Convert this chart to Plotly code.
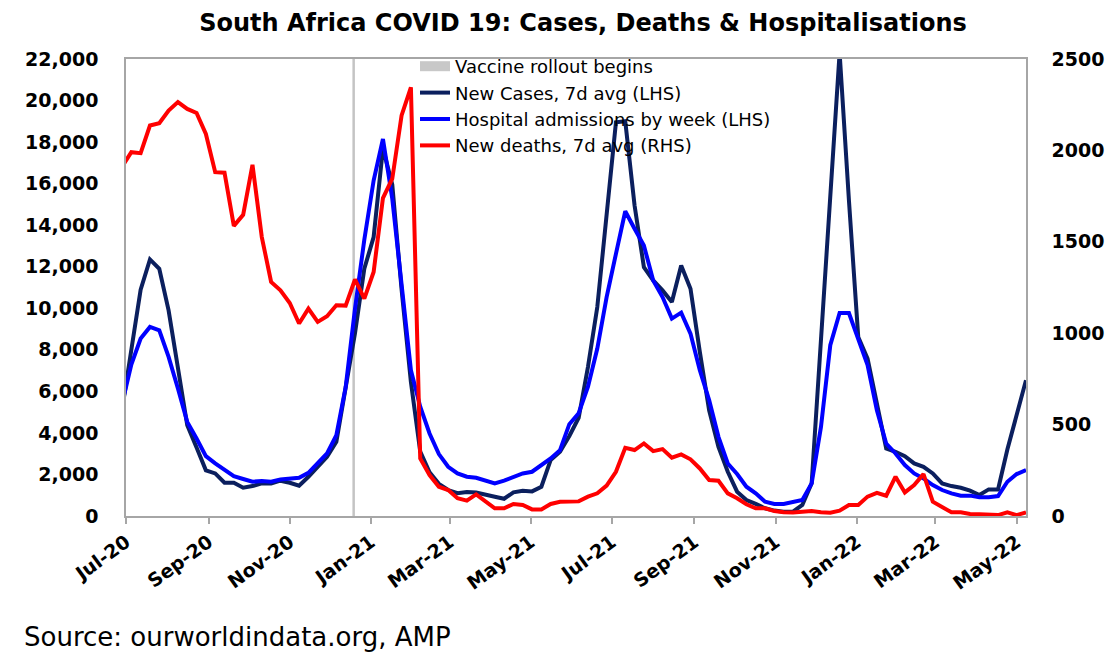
import plotly.graph_objects as go
import pandas as pd

# Weekly observation dates (Sundays)
dates = pd.date_range("2020-06-28", periods=98, freq="7D")

# New cases, 7-day average (LHS)
cases = [5100, 8000, 10900, 12350, 11900, 9900, 7100, 4370, 3300, 2200,
         2050, 1600, 1600, 1360, 1440, 1570, 1570, 1700, 1600, 1460,
         1890, 2370, 2850, 3570, 6100, 8800, 11900, 13430, 17700, 15950,
         10900, 6450, 3100, 2100, 1550, 1250, 1100, 1150, 1130, 1010,
         930, 830, 1140, 1210, 1185, 1410, 2700, 3090, 3850, 4730,
         7180, 10060, 14390, 18950, 19000, 14950, 11980, 11340, 10860, 10300,
         12060, 10940, 7900, 5090, 3330, 2130, 1170, 770, 580, 370,
         260, 210, 210, 530, 1570, 8460, 15100, 22300, 15190, 8620,
         7580, 5400, 3250, 3090, 2880, 2530, 2370, 2050, 1570, 1440,
         1360, 1220, 1010, 1280, 1280, 3200, 4930, 6540]

# Hospital admissions by week (LHS)
hosp = [5400, 7290, 8540, 9100, 8940, 7660, 6140, 4530, 3730, 2880,
        2530, 2240, 1920, 1780, 1650, 1680, 1650, 1760, 1810, 1840,
        2080, 2530, 3010, 3890, 6200, 9980, 13300, 16150, 18150, 15270,
        11180, 7020, 5260, 3970, 2980, 2370, 2050, 1890, 1840, 1700,
        1570, 1700, 1890, 2050, 2130, 2450, 2770, 3170, 4420, 4950,
        6220, 8060, 10540, 12620, 14670, 13830, 13020, 11340, 10540, 9500,
        9790, 8780, 7020, 5580, 3810, 2530, 2020, 1410, 1090, 690,
        580, 580, 690, 770, 1570, 4290, 8220, 9770, 9770, 8460,
        7260, 5090, 3490, 3010, 2450, 2050, 1810, 1490, 1250, 1090,
        980, 980, 900, 900, 960, 1650, 2020, 2210]

# New deaths, 7-day average (RHS)
deaths = [1910, 1990, 1985, 2136, 2149, 2218, 2264, 2227, 2205, 2090,
          1881, 1878, 1587, 1648, 1921, 1526, 1280, 1235, 1165, 1053,
          1134, 1062, 1093, 1153, 1151, 1294, 1189, 1335, 1739, 1845,
          2191, 2345, 315, 224, 160, 142, 97, 84, 118, 78,
          42, 42, 66, 60, 36, 36, 66, 78, 78, 80,
          106, 124, 166, 242, 373, 361, 397, 355, 366, 319,
          337, 310, 260, 197, 193, 124, 97, 64, 42, 42,
          27, 20, 19, 22, 27, 20, 18, 29, 60, 60,
          106, 127, 111, 215, 129, 169, 229, 78, 47, 20,
          20, 11, 9, 5, 5, 20, 5, 20]

vaccine_date = "2020-12-19"

left_ticks = [0, 2000, 4000, 6000, 8000, 10000, 12000, 14000, 16000, 18000, 20000, 22000]
right_ticks = [0, 500, 1000, 1500, 2000, 2500]

FONT = "DejaVu Sans"
GRID = "#a6a6a6"

W, H = 1112, 649   # page adds an 8px body margin

fig = go.Figure()

fig.add_trace(go.Scatter(
    x=[vaccine_date, vaccine_date], y=[left_ticks[0], left_ticks[-1]],
    mode="lines", line=dict(color="#c4c4c4", width=2.5),
    showlegend=False, hoverinfo="skip"))

fig.add_trace(go.Scatter(
    x=[None], y=[None], mode="lines", name="Vaccine rollout begins",
    line=dict(color="#c8c8c8", width=10)))

fig.add_trace(go.Scatter(
    x=dates, y=cases, mode="lines", name="New Cases, 7d avg (LHS)",
    line=dict(color="#0b1f5e", width=4)))

fig.add_trace(go.Scatter(
    x=dates, y=hosp, mode="lines", name="Hospital admissions by week (LHS)",
    line=dict(color="#0000ff", width=4)))

fig.add_trace(go.Scatter(
    x=dates, y=deaths, mode="lines", name="New deaths, 7d avg (RHS)",
    yaxis="y2", line=dict(color="#ff0000", width=4)))

tickfont = dict(family=FONT, size=19, color="black", weight="bold")

fig.update_layout(
    width=W, height=H, autosize=False,
    margin=dict(l=118, r=94, t=51, b=141),
    paper_bgcolor="white", plot_bgcolor="white",
    title=dict(
        text="South Africa COVID 19: Cases, Deaths & Hospitalisations",
        x=575 / W, xanchor="center", yref="container",
        y=1 - 15 / H, yanchor="middle",
        font=dict(family=FONT, size=24, color="black", weight="bold")),
    xaxis=dict(
        type="date", range=["2020-07-01", "2022-05-08"],
        tickformat="%b-%y", dtick="M2", tick0="2020-07-01",
        ticks="outside", ticklen=6, tickcolor=GRID, tickwidth=1.5,
        showline=True, linecolor=GRID, linewidth=1.5, mirror=True,
        showgrid=False, zeroline=False, tickangle=-36,
        tickfont=dict(family=FONT, size=19, color="black", weight="bold")),
    yaxis=dict(
        range=[0, 22000], tickvals=left_ticks, tickformat=",",
        showgrid=False, zeroline=False, showline=True,
        linecolor=GRID, linewidth=1.5, ticks="",
        ticklabelstandoff=22, tickfont=tickfont),
    yaxis2=dict(
        range=[0, 2500], tickvals=right_ticks, overlaying="y", side="right",
        showgrid=False, zeroline=False, showline=True,
        linecolor=GRID, linewidth=1.5, ticks="",
        ticklabelstandoff=20, tickfont=tickfont),
    legend=dict(
        x=(415 - 126) / 900, y=(516 - 48) / 457, xanchor="left", yanchor="top",
        bgcolor="rgba(0,0,0,0)", borderwidth=0, tracegroupgap=0,
        font=dict(family=FONT, size=18, color="black")),
    showlegend=True,
    annotations=[dict(
        text="Source: ourworldindata.org, AMP", xref="paper", yref="paper",
        x=(22 - 126) / 900, y=(516 - 637) / 457, xanchor="left", yanchor="middle",
        showarrow=False, font=dict(family=FONT, size=26, color="black"))],
)

fig.write_html("out.html")
